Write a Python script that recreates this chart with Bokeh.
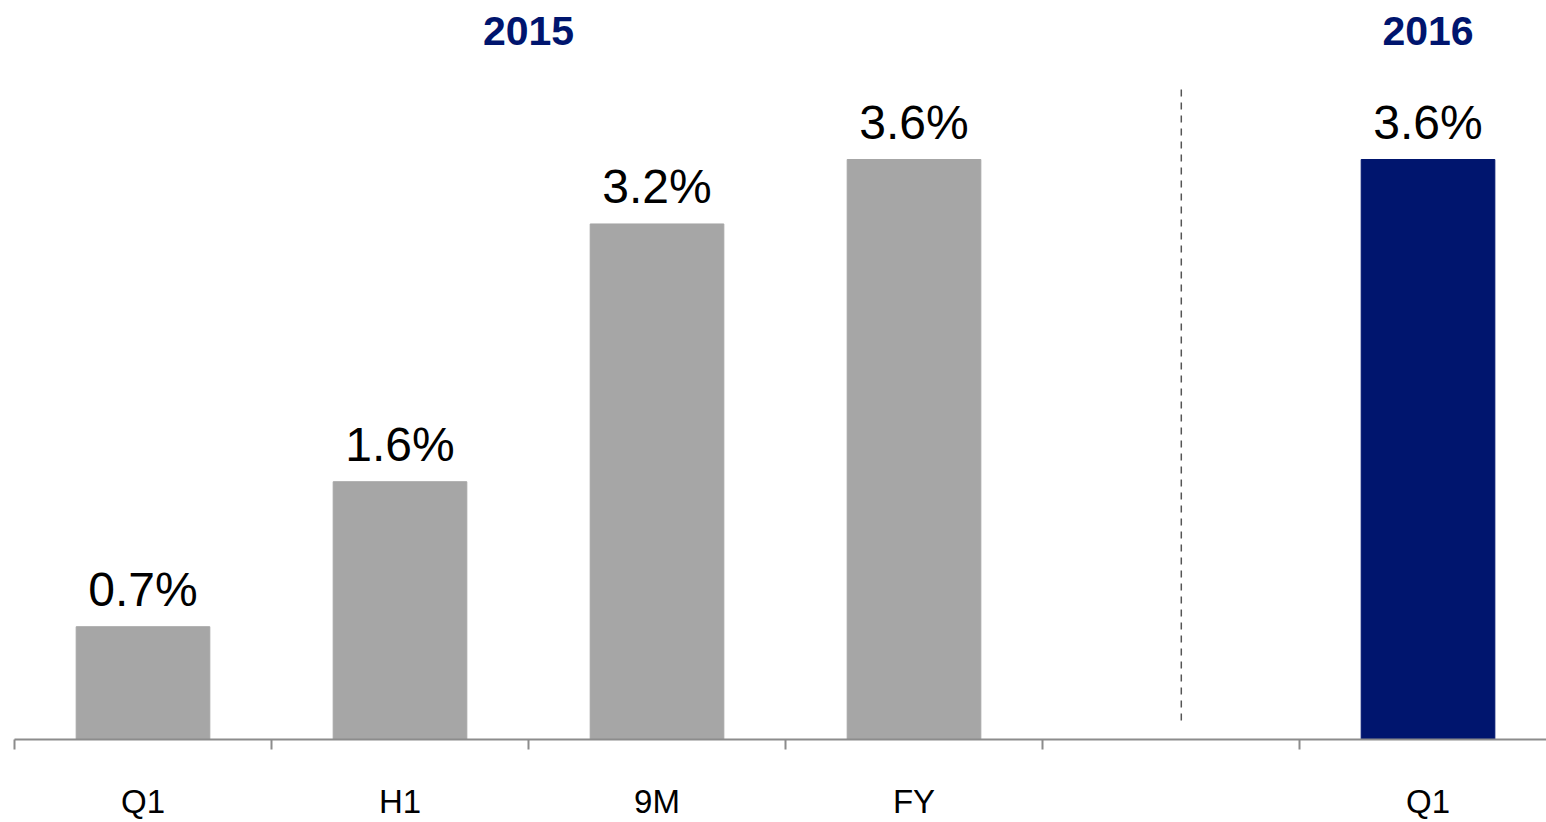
from bokeh.plotting import figure
from bokeh.models import FixedTicker, ColumnDataSource, Range1d
from bokeh.core.properties import value
from bokeh.embed import file_html
from bokeh.resources import INLINE

categories = ["Q1", "H1", "9M", "FY", "", "Q1"]
values = [0.7, 1.6, 3.2, 3.6, None, 3.6]
value_labels = ["0.7%", "1.6%", "3.2%", "3.6%", "", "3.6%"]
groups = ["2015", "2016"]
group_members = [[0, 1, 2, 3], [5]]

GREY = "#A6A6A6"
NAVY = "#00156E"
FONT = "Liberation Sans"

idx = [i for i, v in enumerate(values) if v is not None]
bar_colors = [NAVY if i == 5 else GREY for i in idx]
src = ColumnDataSource(dict(
    x=idx,
    top=[values[i] for i in idx],
    lab=[value_labels[i] for i in idx],
    color=bar_colors,
))

p = figure(width=1546, height=822, output_backend="svg", toolbar_location=None,
           x_range=Range1d(-0.5, 5.461), y_range=Range1d(0, 4.587),
           min_border_left=14, min_border_right=0, min_border_top=0, min_border_bottom=0)
p.outline_line_color = None
p.grid.visible = False
p.yaxis.visible = False
p.background_fill_color = "white"
p.border_fill_color = "white"

p.vbar(x="x", top="top", width=0.52, color="color", source=src)
p.text(x="x", y="top", text="lab", source=src, text_align="center",
       text_baseline="alphabetic", y_offset=-37, text_font=value(FONT),
       text_font_size="48px", text_color="black")

# group headers
gx = [sum(m) / len(m) for m in group_members]
p.text(x=gx, y=[4.40] * len(gx), text=groups, text_align="center",
       text_baseline="middle", text_font=value(FONT), text_font_style="bold",
       text_font_size="41px", text_color=NAVY)

# dashed divider
p.segment(x0=[4.04], y0=[0.118], x1=[4.04], y1=[4.04], line_color="#555555",
          line_width=1.5, line_dash="7 6")

ax = p.xaxis[0]
ax.ticker = FixedTicker(ticks=idx, minor_ticks=[i - 0.5 for i in range(len(categories) + 1)])
ax.major_label_overrides = {i: categories[i] for i in idx}
ax.major_tick_out = 0
ax.major_tick_in = 0
ax.minor_tick_out = 10
ax.minor_tick_in = 0
ax.minor_tick_line_color = "#8c8c8c"
ax.minor_tick_line_width = 2
ax.axis_line_color = "#8c8c8c"
ax.axis_line_width = 2
ax.major_label_standoff = 33
ax.major_label_text_font = FONT
ax.major_label_text_font_size = "33px"
ax.major_label_text_color = "black"

open("out.html", "w").write(file_html(p, INLINE))
